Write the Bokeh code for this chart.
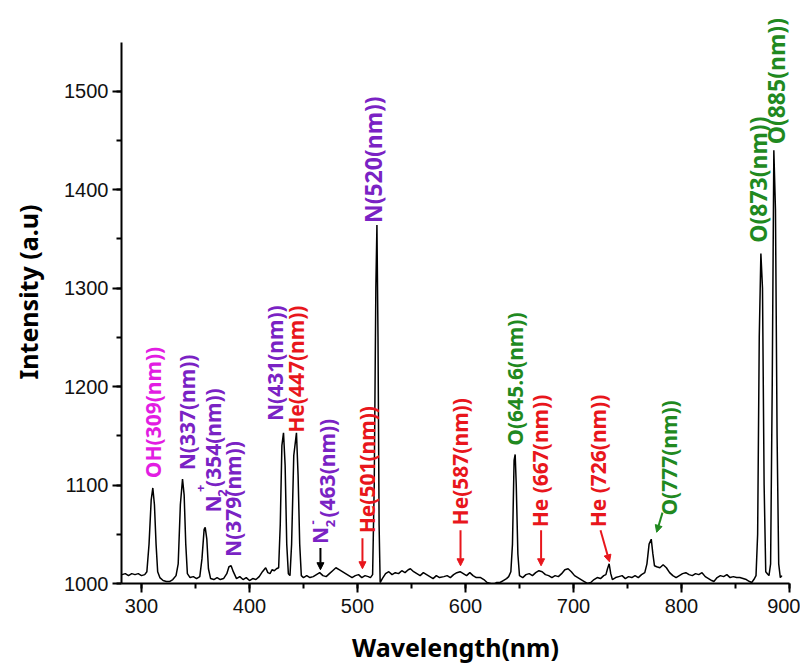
import math
from bokeh.plotting import figure
from bokeh.models import ColumnDataSource, Range1d, SingleIntervalTicker, Arrow, NormalHead
from bokeh.embed import file_html
from bokeh.resources import INLINE
from bokeh.core.properties import value

# ---------------- data ----------------
wavelength = [282, 285, 288, 291, 294, 297, 300, 303, 305, 307, 309, 310.5, 312, 313.5, 315, 317, 320, 323, 326, 329,
              332, 334, 336, 338, 339.5, 341, 342.5, 345, 348, 351, 354, 356, 358, 359, 360.5, 362, 364, 367, 370, 373,
              376, 379, 381, 383, 385, 388, 391, 394, 397, 400, 403, 406, 409, 412, 415, 417, 419, 421, 423, 425,
              427, 428.5, 430, 431.5, 433, 434.5, 436, 437.5, 439, 441, 443.5, 445, 446.5, 448, 450, 453, 456, 459, 462, 465,
              468, 471, 474, 477, 480, 483, 486, 489, 492, 495, 498, 501, 504, 507, 510, 512, 514, 515.5, 517, 518,
              519, 520, 521, 523, 526, 529, 532, 535, 538, 541, 544, 547, 549, 552, 555, 558, 561, 564, 567, 570,
              573, 576, 580, 583, 586, 589, 592, 595, 598, 601, 604, 607, 610, 614, 617, 620, 623, 626, 629, 632,
              635, 638, 640, 642, 643.5, 645, 646, 647, 648.5, 650, 653, 656, 659, 662, 665, 668, 671, 674, 677, 680,
              683, 686, 689, 692, 695, 698, 701, 704, 707, 710, 713, 716, 719, 722, 725, 728, 730, 731.5, 733, 734.5,
              736, 739, 742, 745, 748, 751, 754, 757, 760, 763, 766, 768, 770, 772, 773.5, 775, 777, 780, 783, 786,
              789, 792, 795, 798, 801, 804, 807, 810, 813, 816, 819, 822, 825, 828, 830, 833, 836, 839, 842, 845,
              848, 851, 854, 857, 860, 863, 865, 867, 869, 870.5, 872, 873.5, 875, 876.5, 878, 879.5, 881, 882.5, 884, 885.5,
              887, 888.5, 890, 891.5, 893]
intensity = [1009, 1010, 1008, 1010, 1009, 1010, 1008, 1009, 1012, 1040, 1085, 1097, 1080, 1040, 1012, 1006, 1003, 1002, 1002, 1004,
             1008, 1020, 1080, 1106, 1090, 1040, 1010, 1006, 1007, 1005, 1007, 1025, 1055, 1057, 1045, 1015, 1005, 1004, 1006, 1004,
             1005, 1010, 1017, 1018, 1012, 1005, 1007, 1004, 1006, 1003, 1005, 1004, 1007, 1012, 1016, 1011, 1010, 1014, 1013, 1015,
             1016, 1060, 1140, 1153, 1120, 1040, 1010, 1008, 1040, 1130, 1153, 1110, 1040, 1008, 1006, 1008, 1006, 1007, 1009, 1011,
             1008, 1007, 1010, 1013, 1016, 1014, 1012, 1010, 1008, 1006, 1008, 1009, 1006, 1008, 1007, 1006, 1009, 1100, 1300, 1364,
             1250, 1060, 1001, 1005, 1010, 1012, 1009, 1011, 1010, 1013, 1011, 1014, 1015, 1012, 1010, 1008, 1011, 1009, 1007, 1005,
             1008, 1006, 1007, 1008, 1006, 1009, 1011, 1012, 1010, 1008, 1011, 1008, 1006, 1006, 1004, 1001, 1000, 999, 1001, 1001,
             1003, 1005, 1007, 1012, 1040, 1125, 1131, 1100, 1030, 1008, 1006, 1009, 1010, 1008, 1011, 1013, 1012, 1009, 1008, 1006,
             1008, 1007, 1010, 1014, 1015, 1012, 1008, 1006, 1004, 1002, 1000, 1001, 1004, 1006, 1005, 1008, 1009, 1015, 1020, 1010,
             1004, 1006, 1007, 1008, 1005, 1007, 1006, 1008, 1006, 1009, 1011, 1020, 1040, 1045, 1030, 1018, 1017, 1016, 1019, 1016,
             1011, 1008, 1006, 1008, 1010, 1011, 1009, 1008, 1010, 1009, 1011, 1007, 1005, 1003, 1002, 1006, 1008, 1007, 1009, 1006,
             1007, 1006, 1006, 1005, 1004, 1002, 1001, 1004, 1008, 1050, 1250, 1335, 1300, 1100, 1012, 1010, 1008, 1020, 1200, 1440,
             1380, 1150, 1020, 1006, 1008]

# peak labels: text, colour group, anchor wavelength, anchor intensity (bottom of rotated text)
label_text = ["OH(309(nm))", "N(337(nm))", "N", "(354(nm))", "N(379(nm))", "N(431(nm))", "He(447(nm))",
              "N", "(463(nm))", "He(501(nm))", "He(587(nm))", "O(645.6(nm))", "He (667(nm))",
              "He (726(nm))", "O(777(nm))"]
label_group = ["magenta", "purple", "purple", "purple", "purple", "purple", "red",
               "purple", "purple", "red", "red", "green", "red",
               "red", "green"]
label_x = [311, 341.7, 366.5, 366.5, 385, 424, 443.5, 465.5, 472, 509, 595, 646.3, 669.4, 723, 788]
label_y = [1107, 1115, 1072, 1098, 1027, 1165, 1153, 1040, 1067, 1051, 1059, 1140, 1057, 1057, 1069]

# labels of the three tallest peaks (written larger)
big_text = ["N(520(nm))", "O(873(nm))", "O(885(nm))"]
big_group = ["purple", "green", "green"]
big_x = [514, 871, 887.5]
big_y = [1366, 1346, 1446]

# small super/subscripts of the N2 labels
script_text = ["+", "2", "-", "2"]
script_group = ["purple", "purple", "purple", "purple"]
script_x = [355, 375, 458, 475]
script_y = [1093, 1088, 1060, 1057]

# arrows: (x_start, y_start, x_end, y_end, colour group)
arrow_x0 = [465.7, 504.6, 595.4, 670, 725, 782.4]
arrow_y0 = [1036, 1046, 1054, 1054, 1054, 1072]
arrow_x1 = [465.7, 504.6, 595.4, 670, 733.3, 777]
arrow_y1 = [1014, 1015, 1018, 1018, 1022, 1052]
arrow_group = ["black", "red", "red", "red", "red", "green"]

palette = {"magenta": "#E21DE2", "purple": "#7A22C4", "red": "#E8161C", "green": "#21891F", "black": "#000000"}

# ---------------- figure ----------------
p = figure(width=800, height=666, output_backend="svg", toolbar_location=None,
           x_range=Range1d(281.5, 900), y_range=Range1d(1000, 1592),
           min_border_left=121, min_border_right=11, min_border_top=0, min_border_bottom=83)
p.outline_line_color = None
p.xgrid.visible = False
p.ygrid.visible = False
p.background_fill_color = "white"

p.line(wavelength, intensity, line_color="black", line_width=1.5)


def add_labels(xs, ys, texts, groups, size):
    src = ColumnDataSource(dict(x=xs, y=ys, text=texts, color=[palette[g] for g in groups]))
    p.text(x="x", y="y", text="text", source=src, angle=math.pi / 2, text_color="color",
           text_font=value("Noto Sans"), text_font_style="bold", text_font_size=size,
           text_align="left", text_baseline="middle")


add_labels(label_x, label_y, label_text, label_group, "21px")
add_labels(big_x, big_y, big_text, big_group, "23px")
add_labels(script_x, script_y, script_text, script_group, "13px")

for xs, ys, xe, ye, g in zip(arrow_x0, arrow_y0, arrow_x1, arrow_y1, arrow_group):
    c = palette[g]
    p.add_layout(Arrow(x_start=xs, y_start=ys, x_end=xe, y_end=ye, line_color=c, line_width=2,
                       end=NormalHead(size=7, fill_color=c, line_color=c)))

for ax in (p.xaxis, p.yaxis):
    ax.ticker = SingleIntervalTicker(interval=100, num_minor_ticks=2)
    ax.axis_line_width = 2
    ax.major_tick_line_width = 2
    ax.minor_tick_line_width = 2
    ax.major_tick_in = 0
    ax.major_tick_out = 9
    ax.minor_tick_in = 0
    ax.minor_tick_out = 5
    ax.major_label_text_font = "Liberation Sans"
    ax.major_label_text_font_size = "20px"
    ax.major_label_text_color = "#111111"
    ax.axis_label_text_font = "Noto Sans"
    ax.axis_label_text_font_style = "bold"
    ax.axis_label_text_font_size = "25px"
    ax.axis_label_text_color = "black"

p.yaxis.bounds = (1000, 1549)
p.xaxis.axis_label = "Wavelength(nm)"
p.yaxis.axis_label = "Intensity (a.u)"
p.xaxis.major_label_standoff = 6
p.yaxis.major_label_standoff = 4
p.xaxis.axis_label_standoff = 14
p.yaxis.axis_label_standoff = 16

open("out.html", "w").write(file_html(p, INLINE))
